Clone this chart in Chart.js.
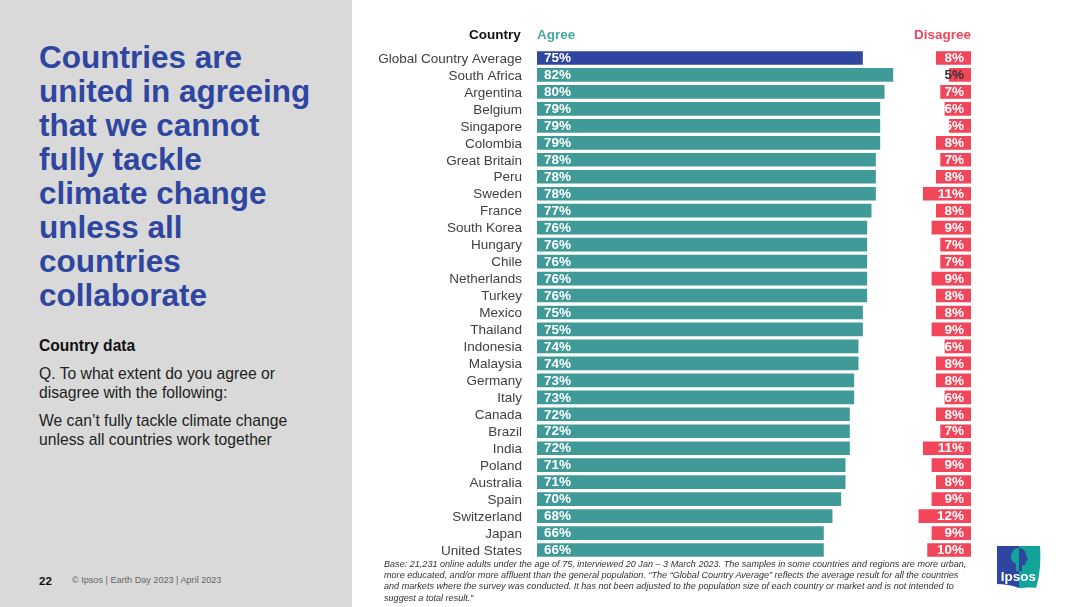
<!DOCTYPE html>
<html>
<head>
<meta charset="utf-8">
<script src="https://cdn.jsdelivr.net/npm/chart.js@4"></script>
<style>
  html, body { margin: 0; padding: 0; background: #fff; }
  body { width: 1080px; height: 607px; position: relative; overflow: hidden; font-family: "Liberation Sans", Arial, sans-serif; }
  #panel { position: absolute; left: 0; top: 0; width: 352px; height: 607px; background: #d9d9d9; }
  #panel div, .txt { position: absolute; white-space: nowrap; }
  #title { left: 39px; top: 40px; font-size: 31.5px; line-height: 34px; font-weight: bold; color: #2f46a0; }
  #sub { left: 39px; top: 337px; font-size: 15.6px; font-weight: bold; color: #111; }
  #q { left: 39px; top: 364px; font-size: 15.7px; line-height: 19px; color: #222; }
  #q2 { left: 39px; top: 411px; font-size: 15.7px; line-height: 19px; color: #222; }
  #page { left: 39px; top: 575px; font-size: 11.5px; font-weight: bold; color: #111; }
  #copy { left: 72px; top: 575px; font-size: 9.1px; color: #666; }
  #myChart { position: absolute; left: 352px; top: 0; }
  #base { left: 384px; top: 559px; font-size: 9.09px; line-height: 11.2px; font-style: italic; color: #333; }
  #logo { position: absolute; left: 997px; top: 546px; }
</style>
</head>
<body>
<div id="panel">
  <div id="title">Countries are<br>united in agreeing<br>that we cannot<br>fully tackle<br>climate change<br>unless all<br>countries<br>collaborate</div>
  <div id="sub">Country data</div>
  <div id="q">Q. To what extent do you agree or<br>disagree with the following:</div>
  <div id="q2">We can’t fully tackle climate change<br>unless all countries work together</div>
  <div id="page">22</div>
  <div id="copy">© Ipsos | Earth Day 2023 | April 2023</div>
</div>
<canvas id="myChart" width="728" height="607"></canvas>
<div class="txt" style="left:469px;top:27px;font-size:13.5px;font-weight:bold;color:#111">Country</div>
<div class="txt" style="left:537px;top:27px;font-size:13.5px;font-weight:bold;color:#47a8a3">Agree</div>
<div class="txt" style="left:914px;top:27px;font-size:13.5px;font-weight:bold;color:#f2465a">Disagree</div>
<div class="txt" id="base">Base: 21,231 online adults under the age of 75, interviewed 20 Jan – 3 March 2023. The samples in some countries and regions are more urban,<br>more educated, and/or more affluent than the general population. “The “Global Country Average” reflects the average result for all the countries<br>and markets where the survey was conducted. It has not been adjusted to the population size of each country or market and is not intended to<br>suggest a total result.”</div>
<svg id="logo" width="44" height="42" viewBox="0 0 44 42">
  <path d="M0 0 H22 V42 H22 C14 39 7 38 0 38 Z" fill="#2f46a0"/>
  <path d="M22 0 H43 C44 14 43 30 39 42 C33 41 27 42 22 42 Z" fill="#12a39a"/>
  <path d="M22 2 C16 2 14 7 14 11 C14 15 17 17 19 18 L19 25 L22 25 Z" fill="#12a39a"/>
  <path d="M22 2 C27 2 29 6 29 9 L31 14 L29 15 L28 19 L25 19 L25 25 L22 25 Z" fill="#2f46a0"/>
  <text x="21.5" y="35" text-anchor="middle" font-family="Liberation Sans" font-weight="bold" font-size="13.5" fill="#fff">Ipsos</text>
</svg>
<script>
// 표에서 읽은 값
const countries = ['Global Country Average', 'South Africa', 'Argentina', 'Belgium', 'Singapore', 'Colombia', 'Great Britain', 'Peru', 'Sweden', 'France', 'South Korea', 'Hungary', 'Chile', 'Netherlands', 'Turkey', 'Mexico', 'Thailand', 'Indonesia', 'Malaysia', 'Germany', 'Italy', 'Canada', 'Brazil', 'India', 'Poland', 'Australia', 'Spain', 'Switzerland', 'Japan', 'United States'];
const agree = [75, 82, 80, 79, 79, 79, 78, 78, 78, 77, 76, 76, 76, 76, 76, 75, 75, 74, 74, 73, 73, 72, 72, 72, 71, 71, 70, 68, 66, 66];
const disagree = [8, 5, 7, 6, 5, 8, 7, 8, 11, 8, 9, 7, 7, 9, 8, 8, 9, 6, 8, 8, 6, 8, 7, 11, 9, 8, 9, 12, 9, 10];

const TEAL = '#3f9a98', BLUE = '#2f46a0', RED = '#f2465a';

// 막대 안의 퍼센트 라벨
const barLabels = {
  id: 'barLabels',
  afterDatasetsDraw(chart) {
    const ctx = chart.ctx;
    ctx.save();
    ctx.textBaseline = 'middle';
    ctx.font = 'bold 13.5px "Liberation Sans"';
    chart.getDatasetMeta(0).data.forEach((bar, i) => {
      ctx.fillStyle = '#fff';
      ctx.textAlign = 'left';
      ctx.fillText(agree[i] + '%', chart.chartArea.left + 7, bar.y + 0.5);
    });
    chart.getDatasetMeta(1).data.forEach((bar, i) => {
      ctx.fillStyle = countries[i] === 'South Africa' ? '#333' : '#fff';
      ctx.textAlign = 'right';
      ctx.fillText(disagree[i] + '%', chart.chartArea.right - 7, bar.y + 0.5);
    });
    ctx.restore();
  }
};

new Chart(document.getElementById('myChart').getContext('2d'), {
  type: 'bar',
  data: {
    labels: countries,
    datasets: [{
      data: agree,
      backgroundColor: countries.map((c, i) => i === 0 ? BLUE : TEAL),
      barThickness: 13,
      grouped: false
    }, {
      // 오른쪽 끝(100)에 붙는 막대
      data: disagree.map(d => [100 - d, 100]),
      backgroundColor: RED,
      barThickness: 13,
      grouped: false
    }]
  },
  options: {
    indexAxis: 'y',
    responsive: false,
    animation: false,
    layout: { padding: { left: 0, right: 109, top: 49.5, bottom: 48.5 } },
    scales: {
      x: { display: false, min: 0, max: 100 },
      y: {
        afterFit(scale) { scale.width = 185; },
        grid: { display: false },
        border: { display: false },
        ticks: { color: '#404040', font: { family: 'Liberation Sans', size: 13.5 }, padding: 7, labelOffset: 1, autoSkip: false }
      }
    },
    plugins: { legend: { display: false }, tooltip: { enabled: false } }
  },
  plugins: [barLabels]
});
</script>
</body>
</html>
